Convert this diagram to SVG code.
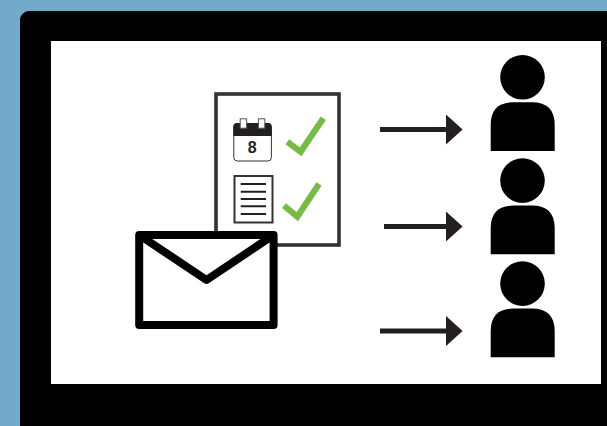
<svg xmlns="http://www.w3.org/2000/svg" width="607" height="426" viewBox="0 0 607 426">
  <style>
    .check{fill:none;stroke:#76bc43;stroke-width:6.2}
    .ln{stroke:#231f20;stroke-width:2}
    .dark{fill:#231f20}
    .shaft{stroke:#231f20;stroke-width:5;fill:none}
  </style>
  <defs>
    <g id="person">
      <circle cx="522.5" cy="77.3" r="22.3" fill="#000"/>
      <path d="M490.7 151V125Q490.7 102.3 513 102.3H532Q554.7 102.3 554.7 125V151Z" fill="#000"/>
    </g>
    <marker id="head" markerUnits="userSpaceOnUse" markerWidth="17" markerHeight="30" refX="0" refY="15" orient="auto">
      <path d="M0 0L16.6 15L0 30Z" fill="#231f20"/>
    </marker>
  </defs>
  <rect width="607" height="426" fill="#74aac9"/>
  <rect x="20" y="11" width="610" height="440" rx="9" fill="#000"/>
  <rect x="51" y="41" width="550" height="343" fill="#fff"/>
  <g id="checklist">
    <rect x="216" y="94" width="123" height="151" fill="#fff" stroke="#333" stroke-width="3.6"/>
    <g id="calendar">
      <rect x="233.8" y="123.5" width="37.6" height="37.5" rx="3.5" fill="#fff" stroke="#333" stroke-width="1"/>
      <path class="dark" d="M233.3 136V127Q233.3 123 237 123H268Q271.7 123 271.7 127V136Z"/>
      <rect x="240.2" y="118.8" width="6.4" height="9.4" fill="#fff" stroke="#555" stroke-width="1"/>
      <rect x="258.4" y="118.8" width="6.4" height="9.4" fill="#fff" stroke="#555" stroke-width="1"/>
      <text x="252.2" y="153.3" font-family="'Liberation Sans',sans-serif" font-size="16" font-weight="700" text-anchor="middle" fill="#231f20">8</text>
    </g>
    <path class="check" d="M287.3 141.7L300.7 151.7L323.3 118.3"/>
    <g id="document">
      <rect x="234.5" y="176" width="38" height="46.5" fill="#fff" stroke="#333" stroke-width="2"/>
      <path class="ln" d="M240.7 184H266M240.7 191.7H266M240.7 199H266M240.7 206.3H266M240.7 214H266"/>
    </g>
    <path class="check" d="M284 205.7L297.3 216.7L319 184"/>
  </g>
  <g id="envelope" fill="none" stroke="#000" stroke-width="8" stroke-linejoin="round">
    <rect x="139.2" y="235" width="134.4" height="90" fill="#fff"/>
    <path d="M139.2 235L206.5 280L273.6 235"/>
  </g>
  <g id="connectors">
    <path class="shaft" d="M380 129.5H446" marker-end="url(#head)"/>
    <path class="shaft" d="M384 226.5H446" marker-end="url(#head)"/>
    <path class="shaft" d="M380 331H446" marker-end="url(#head)"/>
  </g>
  <g id="person1"><use href="#person"/></g>
  <g id="person2"><use href="#person" y="103.3"/></g>
  <g id="person3"><use href="#person" y="206.3"/></g>
</svg>
